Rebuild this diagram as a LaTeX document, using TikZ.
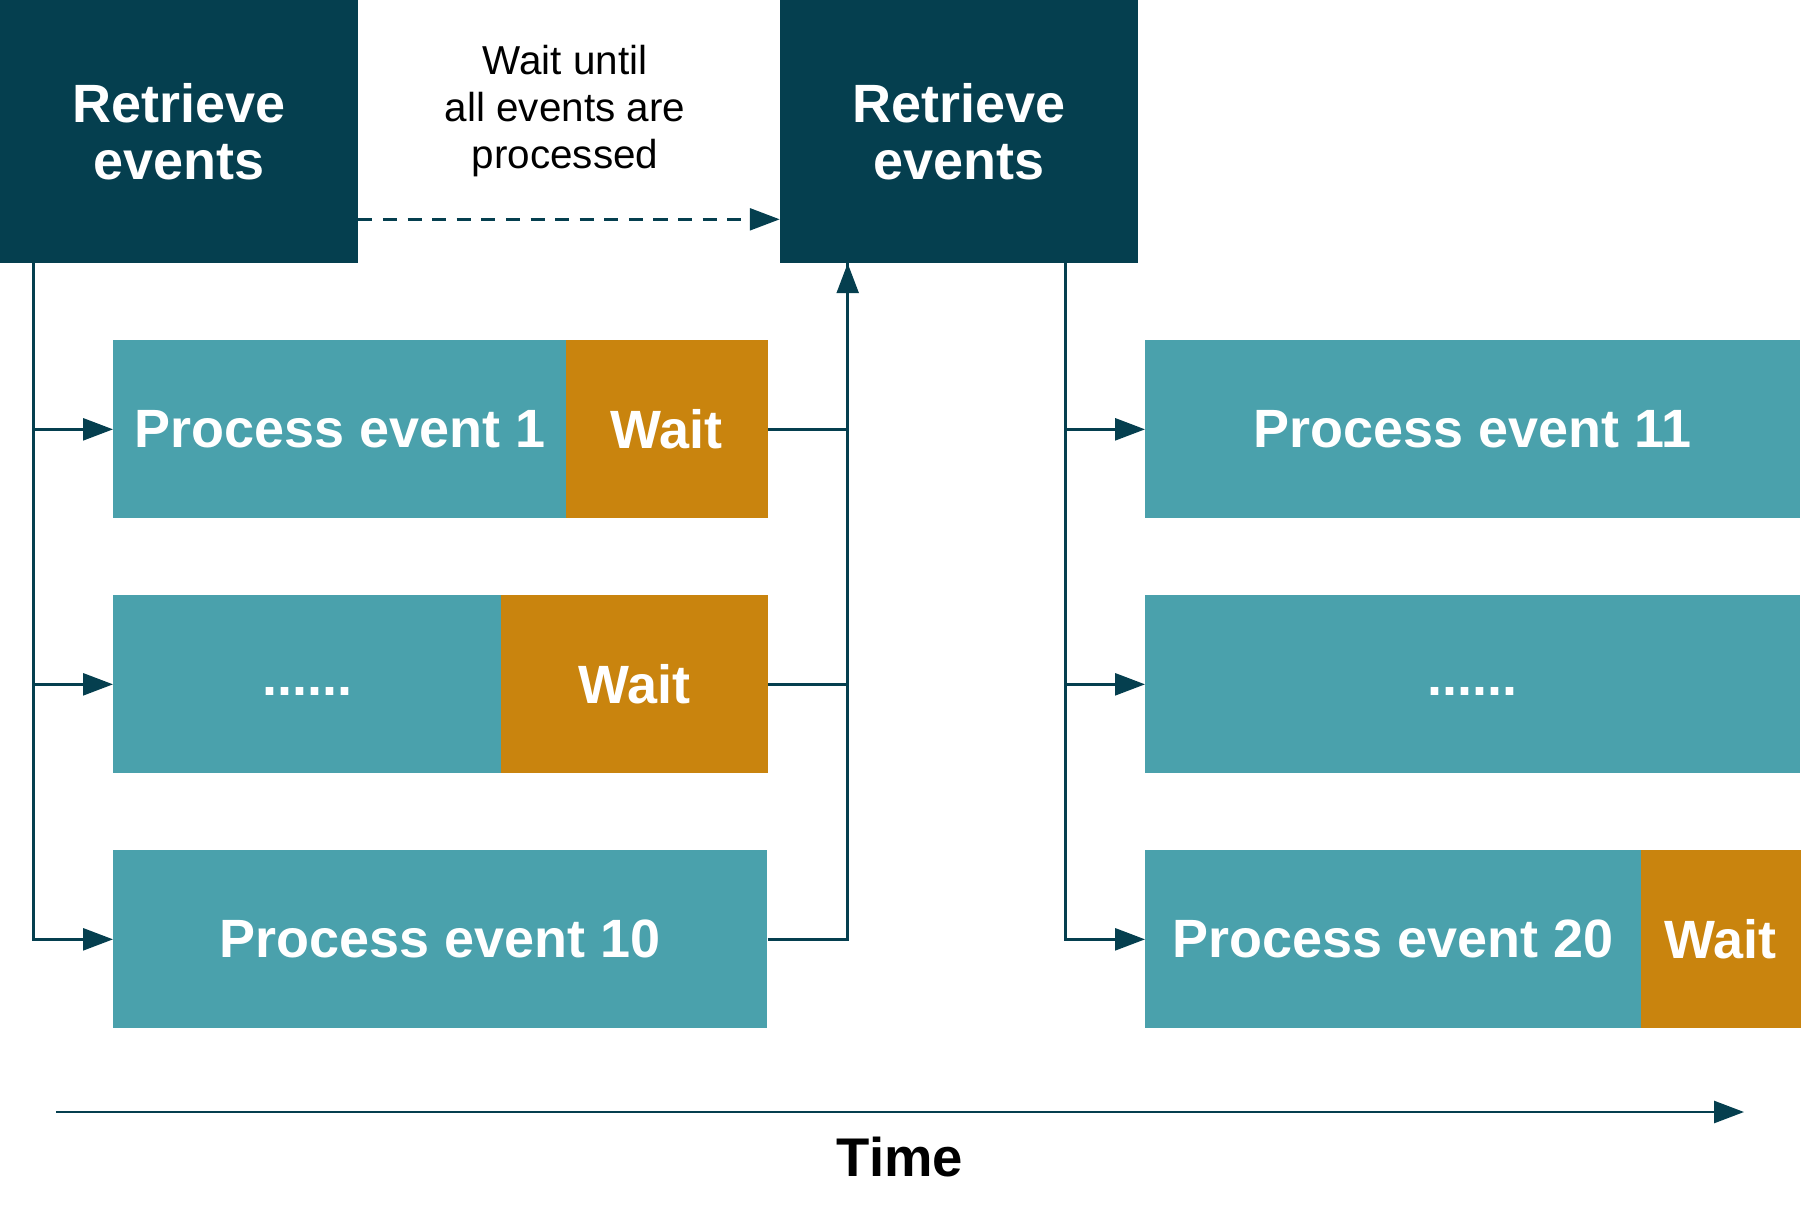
\documentclass[tikz,border=0pt]{standalone}
\usepackage{fontspec}
\setmainfont{Liberation Sans}
\usetikzlibrary{arrows.meta,positioning}
\definecolor{navy}{HTML}{053F4F}
\definecolor{evtteal}{HTML}{4AA1AC}
\definecolor{waitorange}{HTML}{C9840E}
\tikzset{
  retbox/.style={fill=navy,text=white,inner sep=0pt,align=center,
    minimum width=7.16cm,minimum height=5.26cm,
    font=\bfseries\fontsize{30.7}{32.5}\selectfont},
  evtbox/.style={fill=evtteal,text=white,inner sep=0pt,minimum height=3.56cm,
    font=\bfseries\fontsize{30.7}{33}\selectfont},
  waitbox/.style={evtbox,fill=waitorange},
  note/.style={align=center,font=\fontsize{23}{26.8}\selectfont},
  flow/.style={draw=navy,line width=1.4pt},
  arrowed/.style={-{Triangle[length=17pt,width=12.5pt]}}
}
\begin{document}
\begin{tikzpicture}[x=0.02cm,y=-0.02cm]
\useasboundingbox (0,0) rectangle (1801,1220);
\node[retbox] (ret1) at (179,131.5) {Retrieve\\events};
\node[retbox] (ret2) at (959,131.5) {Retrieve\\events};
\node[note] (until) at (565,111) {Wait until\\all events are\\processed};
% first batch
\node[evtbox,minimum width=9.06cm,anchor=north west] (p1) at (113,340) {Process event 1};
\node[waitbox,minimum width=4.04cm,right=-0.6pt of p1] (w1) {Wait};
\node[evtbox,minimum width=7.76cm,anchor=north west] (pdots) at (113,595) {\strut......};
\node[waitbox,minimum width=5.34cm,right=-0.6pt of pdots] (w2) {Wait};
\node[evtbox,minimum width=13.08cm,anchor=north west] (p10) at (113,850) {Process event 10};
% second batch
\node[evtbox,minimum width=13.1cm,anchor=north west] (p11) at (1145,340) {Process event 11};
\node[evtbox,minimum width=13.1cm,anchor=north west] (pdots2) at (1145,595) {\strut......};
\node[evtbox,minimum width=9.92cm,anchor=north west] (p20) at (1145,850) {Process event 20};
\node[waitbox,minimum width=3.2cm,right=-0.6pt of p20] (w20) {Wait};
% connectors
\path (ret1.south west) ++(34,0) coordinate (fork1);
\path (ret2.south west) ++(68,0) coordinate (join1);
\path (ret2.south west) ++(286,0) coordinate (fork2);
\path (ret1.south east) ++(0,-44) coordinate (d0);
\draw[flow,arrowed,dash pattern=on 8pt off 6pt] (d0) -- (d0 -| ret2.west);
\draw[flow,arrowed] (fork1) |- (p10.west);
\draw[flow,arrowed] (fork1 |- p1.west) -- (p1.west);
\draw[flow,arrowed] (fork1 |- pdots.west) -- (pdots.west);
\draw[flow] (w2.east) -- (w2.east -| join1);
\draw[flow] (p10.east) -| (join1);
\draw[flow,arrowed] (w1.east) -| (join1);
\draw[flow,arrowed] (fork2) |- (p20.west);
\draw[flow,arrowed] (fork2 |- p11.west) -- (p11.west);
\draw[flow,arrowed] (fork2 |- pdots2.west) -- (pdots2.west);
% time axis
\coordinate (t0) at (56,1112);
\coordinate (t1) at (1744,1112);
\draw[flow,arrowed] (t0) -- (t1);
\node[font=\bfseries\fontsize{31}{33}\selectfont] (time) at (900,1157) {Time};
\end{tikzpicture}
\end{document}
